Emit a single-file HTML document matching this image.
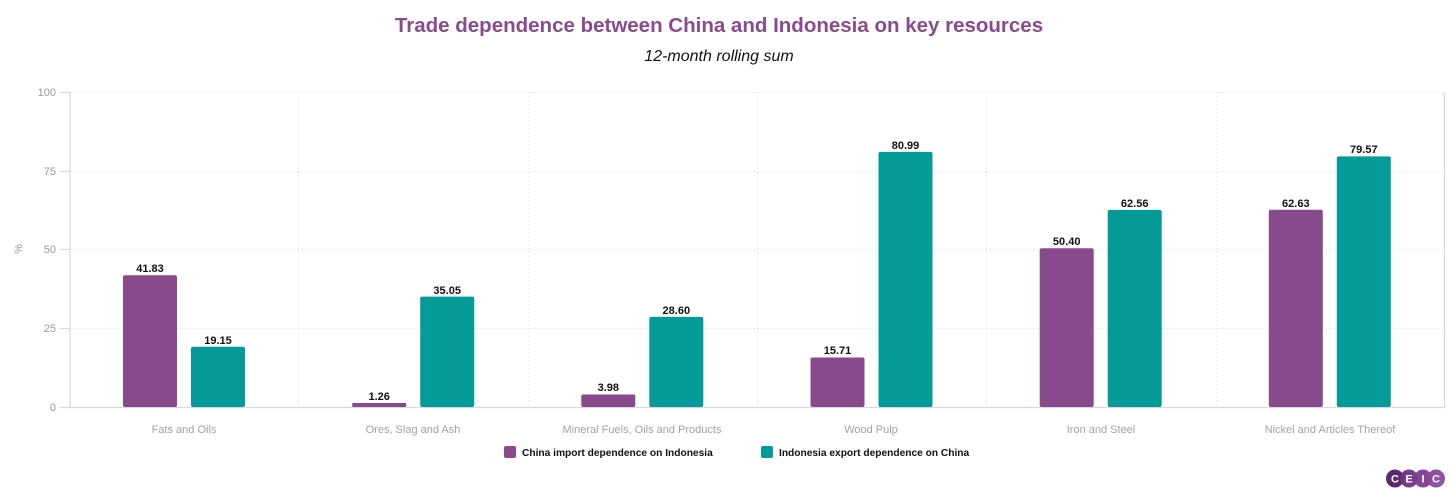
<!DOCTYPE html><html><head><meta charset="utf-8"><style>body{margin:0;background:#fff}svg{display:block;font-family:"Liberation Sans",Arial,sans-serif}</style></head><body>
<svg width="1455" height="497" xmlns="http://www.w3.org/2000/svg">
<text x="719" y="32" text-anchor="middle" font-size="20.5" font-weight="bold" fill="#8a4a8e">Trade dependence between China and Indonesia on key resources</text>
<text x="719" y="61" text-anchor="middle" font-size="16" font-style="italic" fill="#111">12-month rolling sum</text>
<g stroke="#ddd" stroke-dasharray="1,3" stroke-width="1">
<line x1="70" x2="1445" y1="92.5" y2="92.5"/><line x1="70" x2="1445" y1="171.5" y2="171.5"/><line x1="70" x2="1445" y1="249.5" y2="249.5"/><line x1="70" x2="1445" y1="328.5" y2="328.5"/>
<line x1="298.5" x2="298.5" y1="92" y2="407"/><line x1="528.5" x2="528.5" y1="92" y2="407"/><line x1="757.5" x2="757.5" y1="92" y2="407"/><line x1="986.5" x2="986.5" y1="92" y2="407"/><line x1="1216.5" x2="1216.5" y1="92" y2="407"/>
</g>
<g stroke="#d8d8e0" stroke-width="1.2" fill="none"><line x1="70" x2="70" y1="92" y2="407.5"/><line x1="1444.5" x2="1444.5" y1="92" y2="407.5"/><line x1="60" x2="1445" y1="407.5" y2="407.5"/>
<line x1="60" x2="70" y1="92.5" y2="92.5"/><line x1="60" x2="70" y1="171.5" y2="171.5"/><line x1="60" x2="70" y1="249.5" y2="249.5"/><line x1="60" x2="70" y1="328.5" y2="328.5"/></g>
<g font-size="11" fill="#999" text-anchor="end"><text x="56" y="96">100</text><text x="56" y="175">75</text><text x="56" y="253">50</text><text x="56" y="332">25</text><text x="56" y="411">0</text></g>
<text x="22" y="249" font-size="11" fill="#999" text-anchor="middle" transform="rotate(-90 22 249)">%</text>
<g fill="#884a8c"><rect x="123" y="275.2" width="54" height="131.8" rx="2"/><rect x="352.2" y="403" width="54" height="4" rx="1"/><rect x="581.3" y="394.5" width="54" height="12.5" rx="2"/><rect x="810.5" y="357.5" width="54" height="49.5" rx="2"/><rect x="1039.7" y="248.2" width="54" height="158.8" rx="2"/><rect x="1268.8" y="209.7" width="54" height="197.3" rx="2"/></g>
<g fill="#049a98"><rect x="191" y="346.7" width="54" height="60.3" rx="2"/><rect x="420.2" y="296.6" width="54" height="110.4" rx="2"/><rect x="649.3" y="316.9" width="54" height="90.1" rx="2"/><rect x="878.5" y="151.9" width="54" height="255.1" rx="2"/><rect x="1107.7" y="209.9" width="54" height="197.1" rx="2"/><rect x="1336.8" y="156.4" width="54" height="250.6" rx="2"/></g>
<g font-size="11" font-weight="bold" fill="#111" text-anchor="middle">
<text x="150" y="272">41.83</text><text x="218" y="344">19.15</text><text x="379.2" y="400">1.26</text><text x="447.2" y="294">35.05</text><text x="608.3" y="391">3.98</text><text x="676.3" y="314">28.60</text><text x="837.5" y="354">15.71</text><text x="905.5" y="149">80.99</text><text x="1066.7" y="245">50.40</text><text x="1134.7" y="207">62.56</text><text x="1295.8" y="207">62.63</text><text x="1363.8" y="153">79.57</text></g>
<g font-size="11" fill="#a0a0b0" text-anchor="middle"><text x="184" y="433">Fats and Oils</text><text x="413" y="433">Ores, Slag and Ash</text><text x="642" y="433">Mineral Fuels, Oils and Products</text><text x="871" y="433">Wood Pulp</text><text x="1101" y="433">Iron and Steel</text><text x="1330" y="433">Nickel and Articles Thereof</text></g>
<rect x="504" y="446" width="12" height="12" rx="2" fill="#884a8c"/><text x="522" y="456" font-size="10.2" font-weight="bold" fill="#111">China import dependence on Indonesia</text>
<rect x="761" y="446" width="12" height="12" rx="2" fill="#049a98"/><text x="779" y="456" font-size="10.2" font-weight="bold" fill="#111">Indonesia export dependence on China</text>
<g><circle cx="1395" cy="478.5" r="9" fill="#5a2a6a"/><circle cx="1409" cy="478.5" r="9" fill="#6e3380" opacity="0.95"/><circle cx="1423" cy="478.5" r="9" fill="#7d3c8e" opacity="0.95"/><circle cx="1436" cy="478.5" r="9" fill="#8a48a0" opacity="0.95"/>
<g font-size="11" fill="#fff" text-anchor="middle" font-weight="bold"><text x="1395" y="482.5">C</text><text x="1409" y="482.5">E</text><text x="1423" y="482.5">I</text><text x="1436" y="482.5">C</text></g></g>
</svg></body></html>
